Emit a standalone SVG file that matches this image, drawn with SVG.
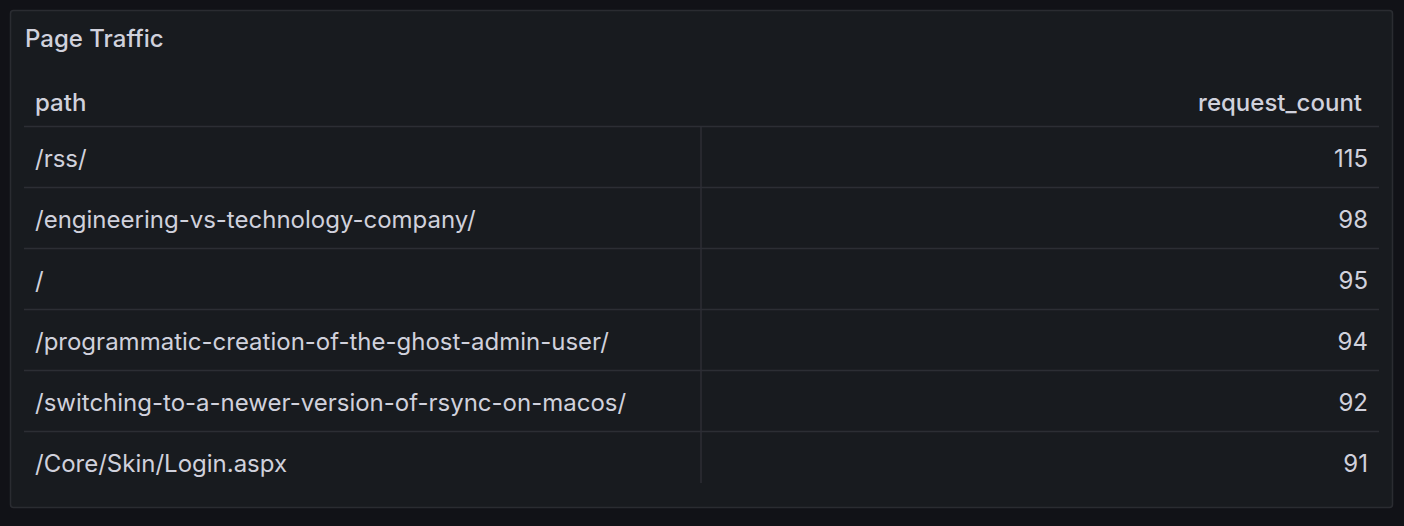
<svg xmlns="http://www.w3.org/2000/svg" width="1404" height="526" viewBox="0 0 1404 526">
<style>
.t{font-family:Inter,"Noto Sans",sans-serif;font-size:24px;fill:#d0d1dc}
.h{font-weight:500}
.r{text-anchor:end}
.ln{stroke:#2c2e34;stroke-width:1.5}
</style>
<rect width="1404" height="526" fill="#111217"/>
<g id="panel">
<rect x="10.5" y="10.5" width="1382" height="497" rx="3" fill="#181b1f" stroke="#2a2c31" stroke-width="1.5"/>
<text class="t h" x="25" y="47">Page Traffic</text>
</g>
<g id="connectors">
<line class="ln" x1="24" y1="126.5" x2="1379" y2="126.5"/>
<line class="ln" x1="24" y1="187.5" x2="1379" y2="187.5"/>
<line class="ln" x1="24" y1="248.5" x2="1379" y2="248.5"/>
<line class="ln" x1="24" y1="309.5" x2="1379" y2="309.5"/>
<line class="ln" x1="24" y1="370.5" x2="1379" y2="370.5"/>
<line class="ln" x1="24" y1="431.5" x2="1379" y2="431.5"/>
<line class="ln" x1="701" y1="127" x2="701" y2="483"/>
</g>
<g id="header">
<text class="t h" x="35" y="111">path</text>
<text class="t h r" x="1362" y="111">request_count</text>
</g>
<g id="row1"><text class="t" x="35" y="167">/rss/</text><text class="t r" x="1368" y="167">115</text></g>
<g id="row2"><text class="t" x="35" y="228">/engineering-vs-technology-company/</text><text class="t r" x="1368" y="228">98</text></g>
<g id="row3"><text class="t" x="35" y="289">/</text><text class="t r" x="1368" y="289">95</text></g>
<g id="row4"><text class="t" x="35" y="350">/programmatic-creation-of-the-ghost-admin-user/</text><text class="t r" x="1368" y="350">94</text></g>
<g id="row5"><text class="t" x="35" y="411">/switching-to-a-newer-version-of-rsync-on-macos/</text><text class="t r" x="1368" y="411">92</text></g>
<g id="row6"><text class="t" x="35" y="472">/Core/Skin/Login.aspx</text><text class="t r" x="1368" y="472">91</text></g>
</svg>
